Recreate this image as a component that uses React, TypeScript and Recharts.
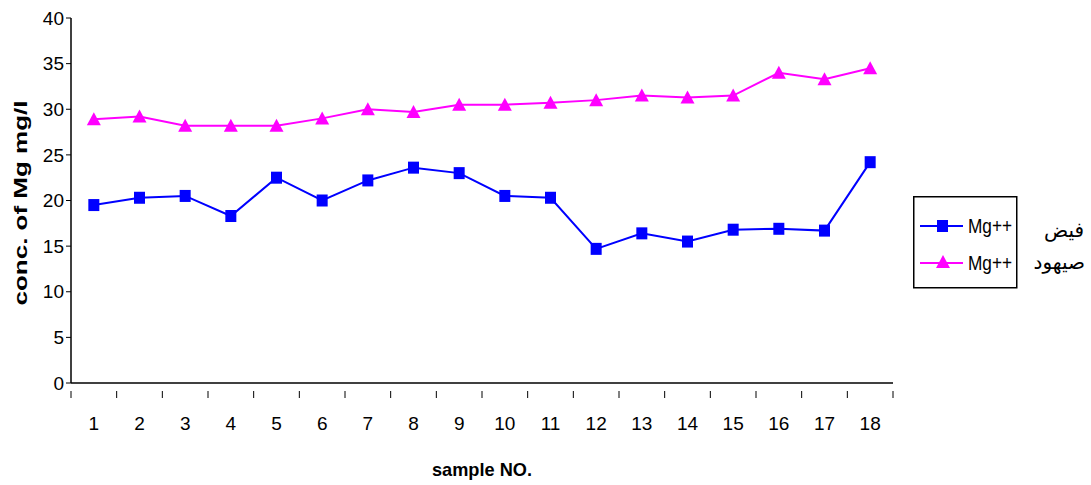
import { LineChart, Line, XAxis, YAxis } from "recharts";

const samples = ["1", "2", "3", "4", "5", "6", "7", "8", "9", "10", "11", "12", "13", "14", "15", "16", "17", "18"];
const faidh = [19.5, 20.3, 20.5, 18.3, 22.5, 20.0, 22.2, 23.6, 23.0, 20.5, 20.3, 14.7, 16.4, 15.5, 16.8, 16.9, 16.7, 24.2];
const saihood = [28.9, 29.2, 28.2, 28.2, 28.2, 29.0, 30.0, 29.7, 30.5, 30.5, 30.7, 31.0, 31.5, 31.3, 31.5, 34.0, 33.3, 34.5];
const yTicks = [0, 5, 10, 15, 20, 25, 30, 35, 40];

const data = samples.map((s, i) => ({ sample: s, faidh: faidh[i], saihood: saihood[i] }));

const FONT = "'Liberation Sans', Arial, sans-serif";
const BLUE = "#0000ff";
const PINK = "#ff00ff";
const BAND = (893 - 71) / samples.length;

const Square = (props: any) => {
  const { cx, cy } = props;
  if (cx == null || cy == null) return null;
  return <rect x={cx - 5.5} y={cy - 6} width={11} height={12} fill={BLUE} />;
};

const Triangle = (props: any) => {
  const { cx, cy } = props;
  if (cx == null || cy == null) return null;
  return <polygon points={`${cx},${cy - 7} ${cx - 7},${cy + 6} ${cx + 7},${cy + 6}`} fill={PINK} />;
};

const XTick = (props: any) => {
  const { x, y, payload, index } = props;
  const left = x - BAND / 2;
  return (
    <g>
      <line x1={left} y1={y} x2={left} y2={y + 7} stroke="#000" strokeWidth={1} />
      {index === samples.length - 1 && (
        <line x1={x + BAND / 2} y1={y} x2={x + BAND / 2} y2={y + 7} stroke="#000" strokeWidth={1} />
      )}
      <text x={x} y={y + 39} textAnchor="middle" fontSize={19} fontFamily={FONT} fill="#000">
        {payload.value}
      </text>
    </g>
  );
};

const LegendBox = () => (
  <div style={{ position: "absolute", left: 913, top: 196, width: 178, height: 95 }}>
    <svg width={178} height={95} style={{ position: "absolute", left: 0, top: 0, overflow: "visible" }}>
      <rect x={0.75} y={0.75} width={103} height={91} fill="#fff" stroke="#000" strokeWidth={1.5} />
      <line x1={7} y1={30} x2={50} y2={30} stroke={BLUE} strokeWidth={2} />
      <rect x={24} y={24} width={11} height={12} fill={BLUE} />
      <text x={55} y={37} fontSize={20} fontFamily={FONT} fill="#000" textLength={44} lengthAdjust="spacingAndGlyphs">Mg++</text>
      <line x1={7} y1={67} x2={50} y2={67} stroke={PINK} strokeWidth={2} />
      <polygon points="30,59 23,72 37,72" fill={PINK} />
      <text x={55} y={74} fontSize={20} fontFamily={FONT} fill="#000" textLength={44} lengthAdjust="spacingAndGlyphs">Mg++</text>
      <text x={171} y={41} fontSize={20} fontFamily="'DejaVu Sans', sans-serif" textAnchor="end" fill="#000">فيض</text>
      <text x={172} y={73} fontSize={20} fontFamily="'DejaVu Sans', sans-serif" textAnchor="end" fill="#000">صيهود</text>
    </svg>
  </div>
);

export default function App() {
  return (
    <div style={{ position: "absolute", left: 0, top: 0, width: 1091, height: 485, background: "#fff" }}>
      <LineChart
        width={1091}
        height={485}
        data={data}
        margin={{ top: 18, right: 198, left: 11, bottom: 62 }}
      >
        <XAxis
          dataKey="sample"
          axisLine={{ stroke: "#000", strokeWidth: 1.5 }}
          tickLine={false}
          tick={<XTick />}
          interval={0}
          height={40}
          padding={{ left: BAND / 2, right: BAND / 2 }}
        />
        <YAxis
          domain={[0, 40]}
          ticks={yTicks}
          interval={0}
          width={60}
          axisLine={{ stroke: "#000", strokeWidth: 1.5 }}
          tickLine={{ stroke: "#000" }}
          tickSize={5}
          tick={{ fill: "#000", fontSize: 19, fontFamily: FONT }}
        />
        <Line
          type="linear"
          dataKey="faidh"
          name="Mg++ فيض"
          stroke={BLUE}
          strokeWidth={2}
          dot={<Square />}
          activeDot={false}
          isAnimationActive={false}
        />
        <Line
          type="linear"
          dataKey="saihood"
          name="Mg++ صيهود"
          stroke={PINK}
          strokeWidth={2}
          dot={<Triangle />}
          activeDot={false}
          isAnimationActive={false}
        />
        <text
          x={27}
          y={203}
          transform="rotate(-90 27 203)"
          textAnchor="middle"
          fontSize={18}
          fontWeight="bold"
          fontFamily={FONT}
          fill="#000"
          textLength={205}
          lengthAdjust="spacingAndGlyphs"
        >
          conc. of Mg  mg/l
        </text>
        <text
          x={482}
          y={476}
          textAnchor="middle"
          fontSize={19}
          fontWeight="bold"
          fontFamily={FONT}
          fill="#000"
          textLength={100}
          lengthAdjust="spacingAndGlyphs"
        >
          sample NO.
        </text>
      </LineChart>
      <LegendBox />
    </div>
  );
}
